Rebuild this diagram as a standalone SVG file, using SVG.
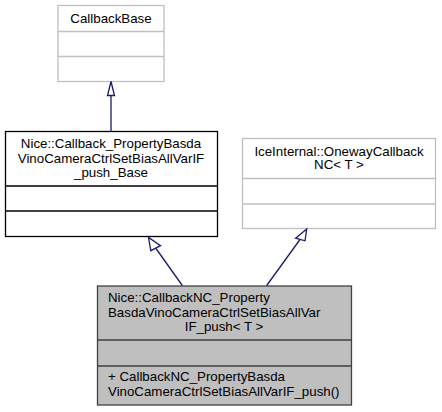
<svg xmlns="http://www.w3.org/2000/svg" width="442" height="412" viewBox="0 0 442 412">
<style>
text{font-family:"Liberation Sans",Arial,sans-serif;font-size:13.3px;fill:#000}
.c{text-anchor:middle}
.ext{fill:#fff;stroke:#bfbfbf;stroke-width:1.3}
.ext line{stroke:#bfbfbf}
.edge{stroke:#191970;stroke-width:1.3;fill:none}
.head{stroke:#191970;stroke-width:1.3;fill:#fff}
</style>
<rect width="442" height="412" fill="#fff"/>
<g id="CallbackBase">
<rect x="58" y="5.5" width="106" height="76" fill="#fff" stroke="#bfbfbf" stroke-width="1.3"/>
<line x1="58" y1="31.5" x2="164" y2="31.5" stroke="#bfbfbf" stroke-width="1.3"/>
<line x1="58" y1="56.5" x2="164" y2="56.5" stroke="#bfbfbf" stroke-width="1.3"/>
<text class="c" x="111" y="22.5">CallbackBase</text>
</g>
<g id="Base">
<rect x="5.5" y="131.5" width="212" height="105" fill="#fff" stroke="#000" stroke-width="1.3"/>
<line x1="5.5" y1="186" x2="217.5" y2="186" stroke="#000" stroke-width="1.3"/>
<line x1="5.5" y1="211" x2="217.5" y2="211" stroke="#000" stroke-width="1.3"/>
<text class="c" x="111" y="148">Nice::Callback_PropertyBasda</text>
<text class="c" x="111" y="163">VinoCameraCtrlSetBiasAllVarIF</text>
<text class="c" x="111" y="177">_push_Base</text>
</g>
<g id="OnewayCallbackNC">
<rect x="242.5" y="138.5" width="193" height="90" fill="#fff" stroke="#bfbfbf" stroke-width="1.3"/>
<line x1="242.5" y1="178.5" x2="435.5" y2="178.5" stroke="#bfbfbf" stroke-width="1.3"/>
<line x1="242.5" y1="204" x2="435.5" y2="204" stroke="#bfbfbf" stroke-width="1.3"/>
<text class="c" x="339" y="155.5">IceInternal::OnewayCallback</text>
<text class="c" x="339" y="169">NC&lt; T &gt;</text>
</g>
<g id="CallbackNC">
<rect x="97.5" y="286" width="254" height="119" fill="#bfbfbf" stroke="#404040" stroke-width="1.3"/>
<line x1="97.5" y1="340" x2="351.5" y2="340" stroke="#404040" stroke-width="1.3"/>
<line x1="97.5" y1="366" x2="351.5" y2="366" stroke="#404040" stroke-width="1.3"/>
<text x="108" y="302">Nice::CallbackNC_Property</text>
<text x="108" y="317">BasdaVinoCameraCtrlSetBiasAllVar</text>
<text class="c" x="224" y="331">IF_push&lt; T &gt;</text>
<text x="108" y="381">+ CallbackNC_PropertyBasda</text>
<text x="108" y="396">VinoCameraCtrlSetBiasAllVarIF_push()</text>
</g>
<g id="connectors">
<line class="edge" x1="111" y1="131" x2="111" y2="95.5"/>
<polygon class="head" points="111,81.5 107.5,95.5 114.5,95.5"/>
<line class="edge" x1="182.3" y1="285.5" x2="156" y2="248.5"/>
<polygon class="head" points="148.5,237.5 150.8,250.7 160.6,245.6"/>
<line class="edge" x1="266.7" y1="285.5" x2="300" y2="239.5"/>
<polygon class="head" points="306.7,229 295.6,238.2 305,240.8"/>
</g>
</svg>
